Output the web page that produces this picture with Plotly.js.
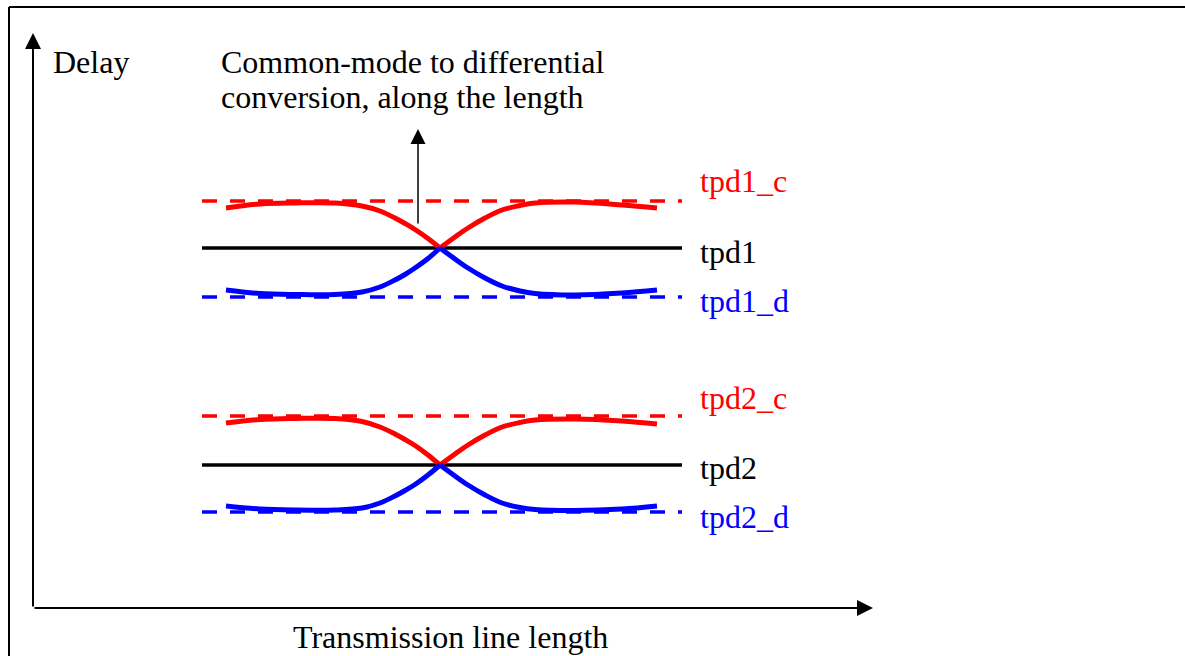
<!DOCTYPE html>
<html>
<head>
<meta charset="utf-8">
<script src="https://cdn.plot.ly/plotly-3.0.1.min.js"></script>
<style>html,body{margin:0;padding:0;background:#fff;}#chart{width:1185px;height:656px;}</style>
</head>
<body>
<div id="chart"></div>
<script>
// Transmission line length (x) and delay (y) values
const lineStartEnd = [169, 649];

const levels = {
  tpd1_c: 407, tpd1: 360, tpd1_d: 311,
  tpd2_c: 192, tpd2: 143, tpd2_d: 96
};

// Curve samples: the crossing point (x = 407) is shared by left and right halves
const curveX = [193, 227, 262, 302, 329, 347, 362, 372, 382, 395, 407,
                422, 435, 452, 469, 487, 502, 542, 589, 624];
const crossX = 407;

const tpd1_c_curve = [400, 404, 405, 405, 402, 397, 390, 384.5, 378.5, 369.5, 360,
                      371, 380, 390, 398, 402.5, 405, 406, 403, 400];
const tpd1_d_curve = [318, 314.5, 313.5, 313.5, 316, 321, 328, 333.5, 340, 349.5, 360,
                      349, 340, 330, 322, 317, 314.5, 313, 315, 318];
const tpd2_c_curve = [185, 188.5, 189.5, 189.5, 186.5, 181, 174, 168.5, 162.5, 153, 143,
                      154, 163, 173, 181, 185.5, 188, 189, 187, 184];
const tpd2_d_curve = [102, 99, 98, 98, 100, 105, 112, 117.5, 123.5, 133, 143,
                      132, 123, 113, 105, 100.5, 98.5, 97.5, 99, 102];

const labelNames = ['tpd1_c', 'tpd1', 'tpd1_d', 'tpd2_c', 'tpd2', 'tpd2_d'];
const labelY = [427, 356, 307, 210, 140, 91];

const RED = '#ff0000', BLUE = '#0000ff', BLACK = '#000000';
const FONT = '"Liberation Serif", "Times New Roman", serif';
const FS = 32;

const traces = [];

function levelTrace(y, color, dashed) {
  traces.push({
    x: lineStartEnd, y: [y, y], mode: 'lines', hoverinfo: 'skip',
    line: {color: color, width: 3.5, dash: dashed ? '15px,13px' : 'solid'}
  });
}
levelTrace(levels.tpd1_c, RED, true);
levelTrace(levels.tpd1, BLACK, false);
levelTrace(levels.tpd1_d, BLUE, true);
levelTrace(levels.tpd2_c, RED, true);
levelTrace(levels.tpd2, BLACK, false);
levelTrace(levels.tpd2_d, BLUE, true);

function curveTrace(ys, color) {
  const lx = [], ly = [], rx = [], ry = [];
  curveX.forEach((x, i) => {
    if (x <= crossX) { lx.push(x); ly.push(ys[i]); }
    if (x >= crossX) { rx.push(x); ry.push(ys[i]); }
  });
  [[lx, ly], [rx, ry]].forEach(([xs, yv]) => {
    traces.push({
      x: xs, y: yv, mode: 'lines', hoverinfo: 'skip',
      line: {color: color, width: 5, shape: 'spline', smoothing: 1}
    });
  });
}
curveTrace(tpd1_c_curve, RED);
curveTrace(tpd1_d_curve, BLUE);
curveTrace(tpd2_c_curve, RED);
curveTrace(tpd2_d_curve, BLUE);

const labelColors = [RED, BLACK, BLUE, RED, BLACK, BLUE];
const annotations = labelNames.map((t, i) => ({
  x: 665, y: labelY[i], xref: 'x', yref: 'y', text: t, showarrow: false,
  xanchor: 'left', yanchor: 'middle',
  font: {family: FONT, size: FS, color: labelColors[i]}
}));

annotations.push(
  {x: 18, y: 546, xref: 'x', yref: 'y', text: 'Delay', showarrow: false,
   xanchor: 'left', yanchor: 'middle', font: {family: FONT, size: FS, color: BLACK}},
  {x: 186, y: 546, xref: 'x', yref: 'y', text: 'Common-mode to differential', showarrow: false,
   xanchor: 'left', yanchor: 'middle', font: {family: FONT, size: FS, color: BLACK}},
  {x: 186, y: 511, xref: 'x', yref: 'y', text: 'conversion, along the length', showarrow: false,
   xanchor: 'left', yanchor: 'middle', font: {family: FONT, size: FS, color: BLACK}},
  {x: 417, y: -29, xref: 'x', yref: 'y', text: 'Transmission line length', showarrow: false,
   xanchor: 'center', yanchor: 'middle', font: {family: FONT, size: FS, color: BLACK}},
  // axis arrows
  {x: 0, y: 575, ax: 0, ay: 0, xref: 'x', yref: 'y', axref: 'x', ayref: 'y', text: '',
   showarrow: true, arrowhead: 2, arrowsize: 1.6, arrowwidth: 2, arrowcolor: BLACK},
  {x: 840, y: 0, ax: 0, ay: 0, xref: 'x', yref: 'y', axref: 'x', ayref: 'y', text: '',
   showarrow: true, arrowhead: 2, arrowsize: 1.6, arrowwidth: 2, arrowcolor: BLACK},
  // conversion arrow
  {x: 385, y: 479, ax: 385, ay: 383, xref: 'x', yref: 'y', axref: 'x', ayref: 'y', text: '',
   showarrow: true, arrowhead: 2, arrowsize: 2, arrowwidth: 1.5, arrowcolor: BLACK}
);

const shapes = [
  {type: 'line', xref: 'x', yref: 'y', x0: -24, x1: -24, y0: -60, y1: 601, line: {color: BLACK, width: 2}},
  {type: 'line', xref: 'x', yref: 'y', x0: -24, x1: 1200, y0: 601, y1: 601, line: {color: BLACK, width: 2}}
];

const layout = {
  width: 1185, height: 656,
  margin: {l: 0, r: 0, t: 0, b: 0, pad: 0},
  paper_bgcolor: '#ffffff', plot_bgcolor: '#ffffff',
  showlegend: false,
  xaxis: {range: [-33, 1152], visible: false, showgrid: false, zeroline: false, fixedrange: true},
  yaxis: {range: [-48, 608], visible: false, showgrid: false, zeroline: false, fixedrange: true},
  annotations: annotations,
  shapes: shapes
};

Plotly.newPlot('chart', traces, layout, {displayModeBar: false, staticPlot: true});
</script>
</body>
</html>
